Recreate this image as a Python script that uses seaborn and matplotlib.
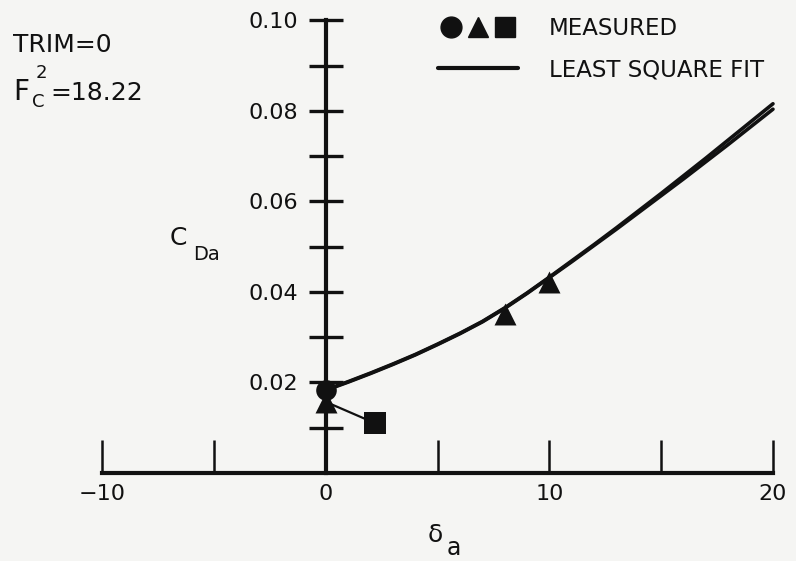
import seaborn as sns
import matplotlib.pyplot as plt
from matplotlib.lines import Line2D
from matplotlib.legend_handler import HandlerTuple

# measured points
circle_x = [0.0]
circle_y = [0.0183]
triangle_x = [0.0, 8.0, 10.0]
triangle_y = [0.0157, 0.0351, 0.0422]
square_x = [2.2]
square_y = [0.0110]

# least square fit curves, read at one-unit stations
fit_x = [0, 1, 2, 3, 4, 5, 6, 7, 8, 9, 10, 11, 12, 13, 14, 15, 16, 17, 18, 19, 20]
fit_upper = [0.0184, 0.0202, 0.0221, 0.0241, 0.0262, 0.0285, 0.0309, 0.0335, 0.0365, 0.0398, 0.0433,
             0.0469, 0.0505, 0.0542, 0.0580, 0.0618, 0.0657, 0.0696, 0.0736, 0.0776, 0.0816]
fit_lower = [0.0183, 0.0201, 0.0220, 0.0240, 0.0261, 0.0284, 0.0308, 0.0334, 0.0364, 0.0397, 0.0432,
             0.0467, 0.0503, 0.0539, 0.0576, 0.0613, 0.0650, 0.0688, 0.0726, 0.0765, 0.0804]

x_ticks = [-10, -5, 0, 5, 10, 15, 20]
x_labels = ['\u221210', '', '0', '', '10', '', '20']
y_ticks = [0.01, 0.02, 0.03, 0.04, 0.05, 0.06, 0.07, 0.08, 0.09, 0.10]
y_labels = ['', '0.02', '', '0.04', '', '0.06', '', '0.08', '', '0.10']

ink = '#111111'
W, H = 796, 561

sns.set_style('ticks')
plt.rcParams['font.family'] = ['DejaVu Sans']

fig = plt.figure(figsize=(W / 100, H / 100), dpi=100, facecolor='#f5f5f3')
ax = fig.add_axes([0, 0, 1, 1])
ax.set_facecolor('none')

# fit curves
sns.lineplot(x=fit_x, y=fit_upper, ax=ax, color=ink, lw=2.6)
sns.lineplot(x=fit_x, y=fit_lower, ax=ax, color=ink, lw=2.6)
# connector from the zero-deflection point to the square
sns.lineplot(x=[triangle_x[0], square_x[0]], y=[triangle_y[0], square_y[0]], ax=ax, color=ink, lw=1.6)

# measured markers
sns.scatterplot(x=triangle_x, y=triangle_y, ax=ax, marker='^', s=250, color=ink, linewidth=0, zorder=5)
sns.scatterplot(x=circle_x, y=circle_y, ax=ax, marker='o', s=220, color=ink, linewidth=0, zorder=6)
sns.scatterplot(x=square_x, y=square_y, ax=ax, marker='s', s=230, color=ink, linewidth=0, zorder=5)

# axes through the origin
ax.set_xlim(-14.586, 21.03)
ax.set_ylim(-0.01945, 0.10453)
ax.spines['top'].set_visible(False)
ax.spines['right'].set_visible(False)
ax.spines['left'].set_position(('data', 0))
ax.spines['bottom'].set_position(('data', 0))
ax.spines['left'].set_bounds(0, 0.10)
ax.spines['bottom'].set_bounds(-10, 20)
ax.spines['left'].set_linewidth(3)
ax.spines['bottom'].set_linewidth(3)
ax.spines['left'].set_color(ink)
ax.spines['bottom'].set_color(ink)

ax.set_xticks(x_ticks, x_labels)
ax.set_yticks(y_ticks, y_labels)
ax.tick_params(axis='x', direction='in', length=24, width=1.8, pad=8, labelsize=16, colors=ink)
ax.tick_params(axis='y', direction='inout', length=25, width=2.4, pad=7.5, labelsize=16, colors=ink)
ax.set_xlabel('')
ax.set_ylabel('')

# legend
h_meas = (Line2D([], [], marker='o', ls='', ms=15, color=ink),
          Line2D([], [], marker='^', ls='', ms=15, color=ink),
          Line2D([], [], marker='s', ls='', ms=14, color=ink))
h_fit = Line2D([], [], color=ink, lw=3)
ax.legend([h_meas, h_fit], ['MEASURED', 'LEAST SQUARE FIT'],
          handler_map={tuple: HandlerTuple(ndivide=None, pad=0)},
          loc='upper left', bbox_to_anchor=(438 / W, 1 - 17 / H),
          bbox_transform=fig.transFigure, frameon=False, fontsize=16.5,
          labelcolor=ink, handlelength=3.5, handletextpad=1.35,
          labelspacing=0.8, borderpad=0, borderaxespad=0)


def put(px, py, s, size):
    fig.text(px / W, 1 - py / H, s, fontsize=size, color=ink, va='baseline', ha='left')


# run conditions
put(13, 52, 'TRIM=0', 18)
put(13, 100, 'F', 20)
put(36, 78, '2', 13)
put(32, 107, 'C', 13)
put(50, 100, '=18.22', 18)

# axis titles
put(170, 245, 'C', 18)
put(193, 260, 'Da', 14)
put(428, 542, '\u03b4', 18)
put(447, 555, 'a', 17)

fig.savefig('out.png', dpi=100, facecolor=fig.get_facecolor())
